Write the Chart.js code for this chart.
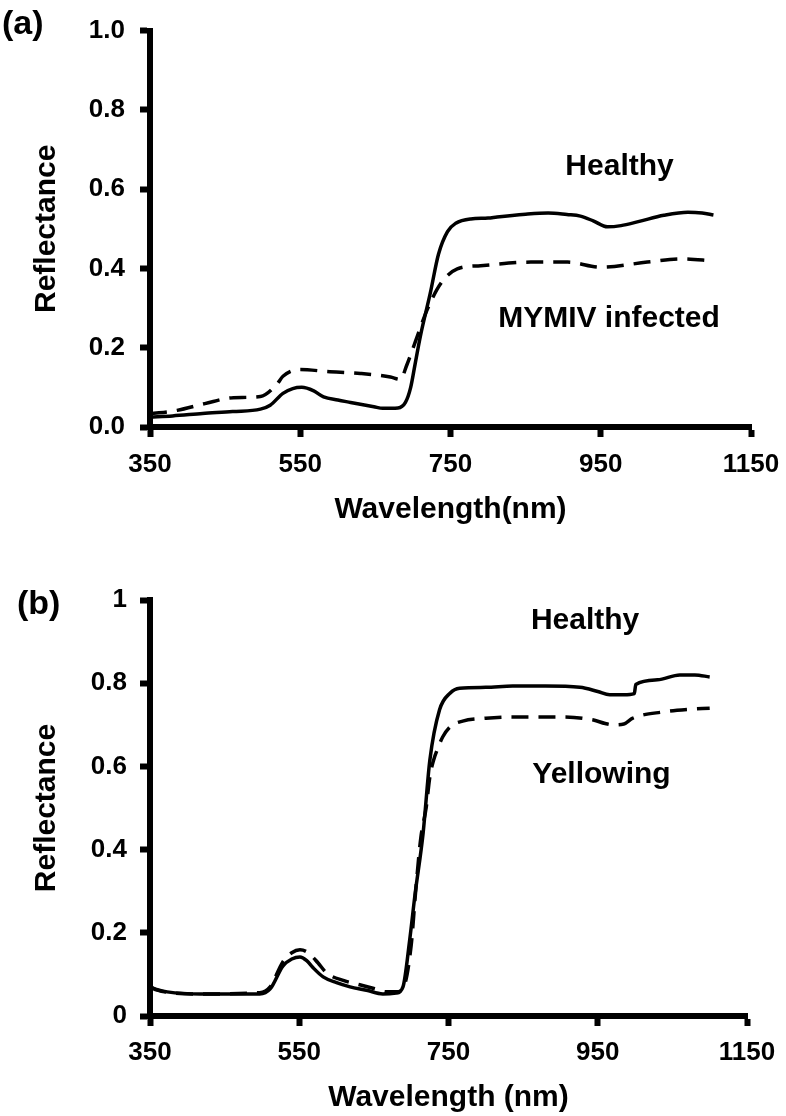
<!DOCTYPE html>
<html>
<head>
<meta charset="utf-8">
<script src="https://cdn.jsdelivr.net/npm/chart.js@4.4.1/dist/chart.umd.min.js"></script>
<style>
  body { margin: 0; background: #fff; }
  .panel { position: absolute; left: 0; width: 786px; }
  #panelA { top: 0; height: 545px; }
  #panelB { top: 545px; height: 571px; }
</style>
</head>
<body>
<div class="panel" id="panelA"><canvas id="chartA"></canvas></div>
<div class="panel" id="panelB"><canvas id="chartB"></canvas></div>
<script>
// ─── Data ─────────────────────────────────────────────────────────────────────

// (a) healthy vs MYMIV infected
const waveHealthyA = [350, 380, 420, 460, 497, 510, 527, 540, 552, 568, 581, 600, 617, 648, 660, 680,
  690, 697, 703, 710, 723, 734, 746, 757, 777, 800, 812, 850, 880, 905, 923, 940, 959, 977, 1000,
  1034, 1066, 1085, 1100];
const reflHealthyA = [0.025, 0.028, 0.034, 0.039, 0.045, 0.055, 0.085, 0.097, 0.100, 0.091, 0.076,
  0.068, 0.062, 0.051, 0.047, 0.048, 0.062, 0.10, 0.16, 0.23, 0.337, 0.436, 0.493, 0.514, 0.525,
  0.527, 0.530, 0.537, 0.540, 0.536, 0.532, 0.520, 0.505, 0.508, 0.518, 0.534, 0.542, 0.540, 0.535];

const waveInfectedA = [350, 386, 423, 461, 497, 519, 527, 550, 586, 630, 670, 683, 692, 706, 719,
  737, 759, 790, 857, 906, 950, 1012, 1057, 1100];
const reflInfectedA = [0.033, 0.042, 0.059, 0.074, 0.077, 0.108, 0.128, 0.145, 0.140, 0.135, 0.126,
  0.120, 0.157, 0.230, 0.296, 0.362, 0.399, 0.407, 0.416, 0.416, 0.403, 0.416, 0.424, 0.419];

// (b) healthy vs yellowing
const waveHealthyB = [350, 360, 373, 417, 497, 511, 528, 540, 551, 560, 568, 582, 600, 618, 640, 662,
  680, 689, 698, 705, 716, 725, 738, 752, 765, 800, 836, 880, 926, 950, 966, 985, 999, 1001, 1030,
  1060, 1080, 1100];
const reflHealthyB = [0.070, 0.063, 0.058, 0.053, 0.053, 0.065, 0.120, 0.137, 0.142, 0.133, 0.117,
  0.094, 0.080, 0.070, 0.062, 0.053, 0.055, 0.070, 0.183, 0.290, 0.440, 0.615, 0.736, 0.776, 0.788,
  0.790, 0.793, 0.793, 0.790, 0.780, 0.772, 0.772, 0.775, 0.797, 0.808, 0.820, 0.820, 0.815];

const waveYellowB = [350, 360, 373, 417, 497, 511, 528, 540, 551, 562, 575, 587, 610, 631, 650, 667,
  680, 690, 700, 706, 713, 720, 725, 730, 736, 742, 752, 769, 800, 836, 903, 943, 960, 970, 985, 997,
  1038, 1070, 1100];
const reflYellowB = [0.070, 0.062, 0.057, 0.053, 0.056, 0.070, 0.130, 0.152, 0.159, 0.152, 0.128,
  0.103, 0.085, 0.075, 0.066, 0.058, 0.058, 0.070, 0.170, 0.300, 0.430, 0.500, 0.575, 0.615, 0.645,
  0.670, 0.695, 0.709, 0.716, 0.719, 0.719, 0.712, 0.703, 0.700, 0.702, 0.716, 0.731, 0.737, 0.740];

// Tick labels
const xTicks = [350, 550, 750, 950, 1150];
const xTickLabels = ['350', '550', '750', '950', '1150'];
const yTickLabelsA = ['0.0', '0.2', '0.4', '0.6', '0.8', '1.0'];
const yTickLabelsB = ['0', '0.2', '0.4', '0.6', '0.8', '1'];

// ─── Helpers ──────────────────────────────────────────────────────────────────

const FONT = "'Liberation Sans', Arial, Helvetica, sans-serif";
Chart.defaults.font.family = FONT;
Chart.defaults.font.weight = 'bold';
Chart.defaults.color = '#000';

function toPoints(xs, ys) {
  return xs.map((x, i) => ({ x, y: ys[i] }));
}

function lineSet(label, xs, ys, dashed) {
  return {
    label,
    data: toPoints(xs, ys),
    borderColor: '#000',
    borderWidth: 3.5,
    borderDash: dashed ? [17, 10] : [],
    pointRadius: 0,
    fill: false,
    cubicInterpolationMode: 'monotone',
  };
}

// text labels inside the plot (data coords) + panel letter (canvas coords)
const textPlugin = {
  id: 'texts',
  afterDatasetsDraw(chart, args, opts) {
    const { ctx, scales } = chart;
    ctx.save();
    ctx.fillStyle = '#000';
    ctx.textBaseline = 'middle';
    ctx.font = `bold 30px ${FONT}`;
    ctx.textAlign = 'center';
    for (const t of opts.notes) {
      ctx.fillText(t.text, scales.x.getPixelForValue(t.x), scales.y.getPixelForValue(t.y));
    }
    ctx.font = `bold 34px ${FONT}`;
    ctx.textAlign = 'left';
    ctx.fillText(opts.panel.text, opts.panel.left, opts.panel.top);
    ctx.restore();
  },
};

function makeChart(id, cfg) {
  return new Chart(document.getElementById(id), {
    type: 'line',
    data: { datasets: cfg.datasets },
    plugins: [textPlugin],
    options: {
      responsive: true,
      maintainAspectRatio: false,
      animation: false,
      layout: { padding: cfg.padding },
      plugins: {
        legend: { display: false },
        tooltip: { enabled: false },
        texts: { notes: cfg.notes, panel: cfg.panel },
      },
      scales: {
        x: {
          type: 'linear',
          min: 350,
          max: 1150,
          afterBuildTicks: (s) => { s.ticks = xTicks.map((v) => ({ value: v })); },
          afterFit: (s) => {
            s.height = cfg.xHeight;
            s.paddingLeft = 0;   // let layout padding decide the plot edges
            s.paddingRight = 0;
          },
          ticks: {
            font: { size: 26 },
            padding: cfg.xTickPad,
            maxRotation: 0,
            autoSkip: false,
            callback: (v, i) => xTickLabels[i],
          },
          grid: { drawOnChartArea: false, tickLength: 10, tickWidth: 6, tickColor: '#000' },
          border: { width: 6, color: '#000' },
          title: { display: true, text: cfg.xTitle, font: { size: 30 }, padding: { top: 0, bottom: cfg.xTitlePad } },
        },
        y: {
          min: 0,
          max: 1,
          ticks: {
            stepSize: 0.2,
            font: { size: 26 },
            padding: cfg.yTickPad,
            callback: (v, i) => cfg.yLabels[i],
          },
          afterFit: (s) => { s.width = 150; },
          grid: { drawOnChartArea: false, tickLength: 10, tickWidth: 6, tickColor: '#000' },
          border: { width: 6, color: '#000' },
          title: { display: true, text: 'Reflectance', font: { size: 30 }, padding: { top: 29, bottom: 0 } },
        },
      },
    },
  });
}

// ─── Charts ───────────────────────────────────────────────────────────────────

makeChart('chartA', {
  datasets: [
    lineSet('Healthy', waveHealthyA, reflHealthyA, false),
    lineSet('MYMIV infected', waveInfectedA, reflInfectedA, true),
  ],
  padding: { top: 21, left: 0, right: 35, bottom: 0 },
  xHeight: 118,
  xTickPad: 12,
  xTitle: 'Wavelength(nm)',
  xTitlePad: 17,
  yTickPad: 15,
  yLabels: yTickLabelsA,
  notes: [
    { text: 'Healthy', x: 975, y: 0.656 },
    { text: 'MYMIV infected', x: 961, y: 0.273 },
  ],
  panel: { text: '(a)', left: 2, top: 25 },
});

makeChart('chartB', {
  datasets: [
    lineSet('Healthy', waveHealthyB, reflHealthyB, false),
    lineSet('Yellowing', waveYellowB, reflYellowB, true),
  ],
  padding: { top: 55, left: 0, right: 39, bottom: 0 },
  xHeight: 100,
  xTickPad: 11,
  xTitle: 'Wavelength (nm)',
  xTitlePad: 0,
  yTickPad: 13,
  yLabels: yTickLabelsB,
  notes: [
    { text: 'Healthy', x: 933, y: 0.949 },
    { text: 'Yellowing', x: 955, y: 0.58 },
  ],
  panel: { text: '(b)', left: 17, top: 60 },
});
</script>
</body>
</html>
